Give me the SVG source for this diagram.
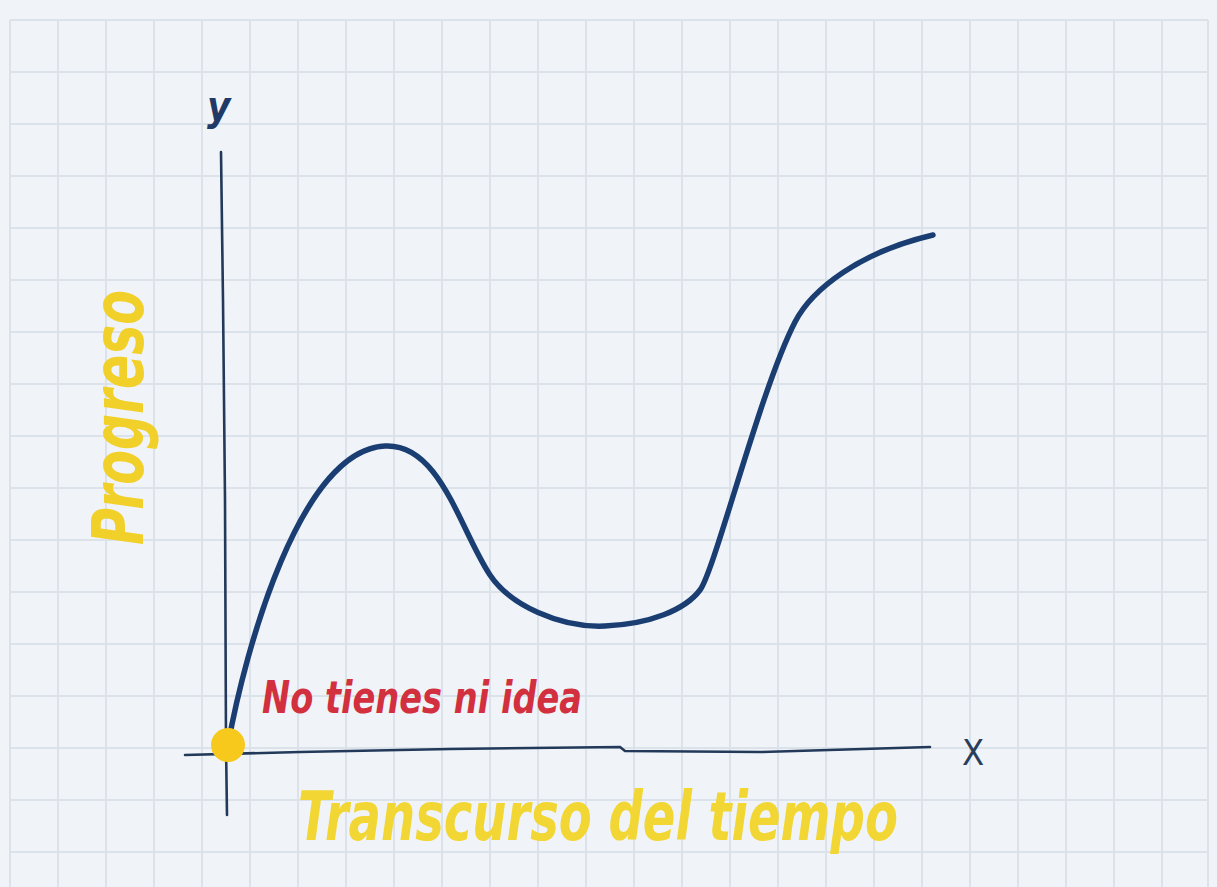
<svg xmlns="http://www.w3.org/2000/svg" width="1217" height="887" viewBox="0 0 1217 887">
<style>
.grid{stroke:#dce2e9;stroke-width:2;fill:none}
.axis{stroke:#22395a;stroke-width:2.6;fill:none;stroke-linecap:round}
.curve{stroke:#1b3e72;stroke-width:5.5;fill:none;stroke-linecap:round;stroke-linejoin:round}
.lbl{font-family:"DejaVu Sans Condensed","DejaVu Sans",sans-serif;font-style:italic;font-weight:bold}
</style>
<rect width="1217" height="887" fill="#f0f4f8"/>
<g id="grid">
<path class="grid" d="M10,20V887M58,20V887M106,20V887M154,20V887M202,20V887M250,20V887M298,20V887M346,20V887M394,20V887M442,20V887M490,20V887M538,20V887M586,20V887M634,20V887M682,20V887M730,20V887M778,20V887M826,20V887M874,20V887M922,20V887M970,20V887M1018,20V887M1066,20V887M1114,20V887M1162,20V887M1208,20V887"/>
<path class="grid" d="M10,20H1208M10,72H1208M10,124H1208M10,176H1208M10,228H1208M10,280H1208M10,332H1208M10,384H1208M10,436H1208M10,488H1208M10,540H1208M10,592H1208M10,644H1208M10,696H1208M10,748H1208M10,800H1208M10,852H1208"/>
</g>
<g id="connectors">
<path id="y-axis" class="axis" d="M221,152 L223,300 L225,500 L226,745 L227,815"/>
<path id="x-axis" class="axis" d="M185,755 L300,752 L450,749 L620,747 L625,751 L760,752 L930,747"/>
<path id="curve" class="curve" d="M228,745 C245,650 300,450 385,446 C440,443 460,530 490,575 C510,605 560,628 605,626 C650,624 685,610 700,590 C715,570 760,390 795,322 C812,289 860,252 933,235"/>
</g>
<g id="origin">
<circle cx="228" cy="745" r="17" fill="#f6c91c"/>
</g>
<g id="label-y"><text class="lbl" x="207" y="120" font-size="40" fill="#1f3a66">y</text></g>
<g id="label-x"><text x="962" y="765" font-size="36" font-family="DejaVu Sans Condensed, DejaVu Sans, sans-serif" fill="#2a3e5a">X</text></g>
<g id="label-progreso"><text class="lbl" transform="translate(143,545) rotate(-90)" font-size="72" fill="#f2d02a" textLength="255" lengthAdjust="spacingAndGlyphs">Progreso</text></g>
<g id="label-origin"><text class="lbl" x="262" y="713" font-size="44" fill="#d2303e" textLength="320" lengthAdjust="spacingAndGlyphs">No tienes ni idea</text></g>
<g id="label-time"><text class="lbl" x="298" y="840" font-size="68" fill="#f2d634" textLength="600" lengthAdjust="spacingAndGlyphs">Transcurso del tiempo</text></g>
</svg>
